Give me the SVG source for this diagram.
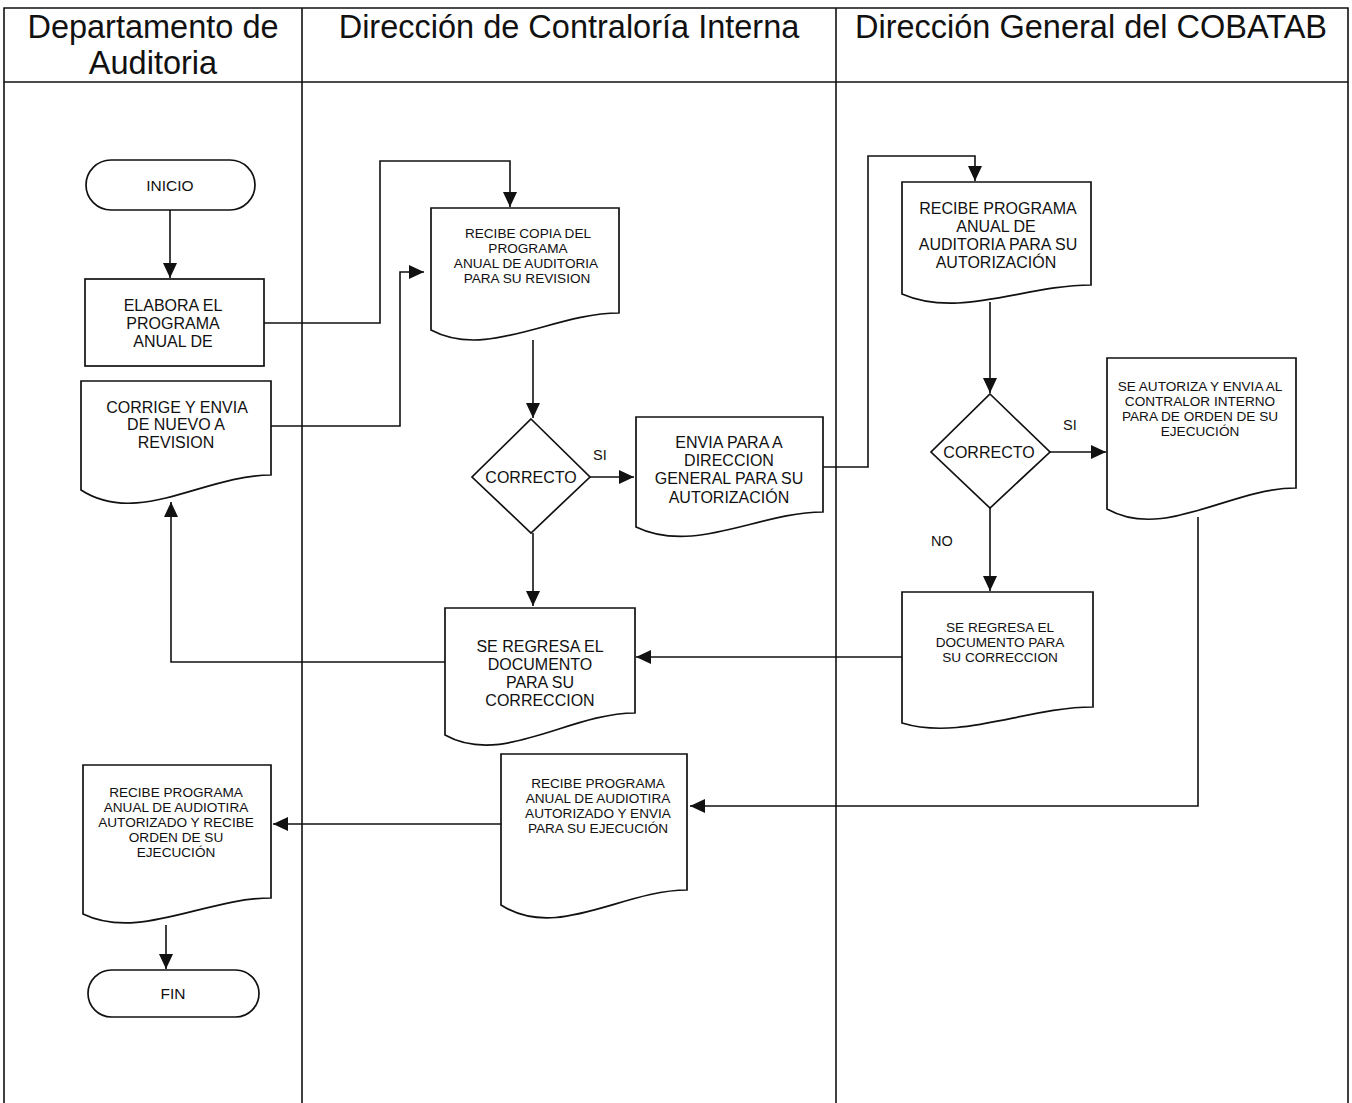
<svg xmlns="http://www.w3.org/2000/svg" width="1352" height="1103" viewBox="0 0 1352 1103">
  <style>
    .lane { fill: none; stroke: #111; stroke-width: 1.6; }
    .shape { fill: #fff; stroke: #111; stroke-width: 1.7; }
    .conn { fill: none; stroke: #111; stroke-width: 1.6; }
    .hdr { font-family: "Liberation Sans", Arial, sans-serif; font-size: 32.5px; fill: #111; text-anchor: middle; }
    .t16 { font-family: "Liberation Sans", Arial, sans-serif; font-size: 16px; fill: #111; text-anchor: middle; }
    .t13 { font-family: "Liberation Sans", Arial, sans-serif; font-size: 13.6px; fill: #111; text-anchor: middle; }
    .lbl { font-family: "Liberation Sans", Arial, sans-serif; font-size: 14.5px; fill: #111; }
  </style>
  <defs>
    <marker id="arrow" markerUnits="userSpaceOnUse" markerWidth="16" markerHeight="14" refX="15" refY="7" orient="auto">
      <path d="M0,0 L15,7 L0,14 Z" fill="#111"/>
    </marker>
  </defs>

  <rect width="1352" height="1103" fill="#fff"/>

  <!-- swimlane frame -->
  <g id="lanes">
    <path class="lane" d="M4,1110 V8 H1348 V1110"/>
    <line class="lane" x1="4" y1="82" x2="1348" y2="82"/>
    <line class="lane" x1="302" y1="8" x2="302" y2="1110"/>
    <line class="lane" x1="836" y1="8" x2="836" y2="1110"/>
    <text class="hdr" x="153" y="38">Departamento de</text>
    <text class="hdr" x="153" y="74">Auditoria</text>
    <text class="hdr" x="569" y="38">Dirección de Contraloría Interna</text>
    <text class="hdr" x="1091" y="38">Dirección General del COBATAB</text>
  </g>

  <!-- connectors -->
  <g id="connectors">
    <path class="conn" d="M170,210 V278" marker-end="url(#arrow)"/>
    <path class="conn" d="M264,323 H380 V161 H510 V207" marker-end="url(#arrow)"/>
    <path class="conn" d="M271,426 H400 V272 H424" marker-end="url(#arrow)"/>
    <path class="conn" d="M533,340 V418" marker-end="url(#arrow)"/>
    <path class="conn" d="M590,477 H634" marker-end="url(#arrow)"/>
    <path class="conn" d="M823,467 H868 V156 H975 V181" marker-end="url(#arrow)"/>
    <path class="conn" d="M990,302 V393" marker-end="url(#arrow)"/>
    <path class="conn" d="M1050,452 H1106" marker-end="url(#arrow)"/>
    <path class="conn" d="M990,508 V591" marker-end="url(#arrow)"/>
    <path class="conn" d="M902,657 H636" marker-end="url(#arrow)"/>
    <path class="conn" d="M533,533 V606" marker-end="url(#arrow)"/>
    <path class="conn" d="M445,662 H171 V502" marker-end="url(#arrow)"/>
    <path class="conn" d="M1198,517 V806 H690" marker-end="url(#arrow)"/>
    <path class="conn" d="M501,824 H273" marker-end="url(#arrow)"/>
    <path class="conn" d="M166,925 V969" marker-end="url(#arrow)"/>
    <text class="lbl" x="593" y="460">SI</text>
    <text class="lbl" x="1063" y="430">SI</text>
    <text class="lbl" x="931" y="546">NO</text>
  </g>

  <g id="inicio">
    <rect class="shape" x="86" y="160" width="169" height="50" rx="25"/>
    <text class="t13" x="170" y="191" style="font-size:15.5px">INICIO</text>
  </g>

  <g id="elabora">
    <rect class="shape" x="85" y="279" width="179" height="87"/>
    <text class="t16" x="173" y="311">ELABORA EL</text>
    <text class="t16" x="173" y="329">PROGRAMA</text>
    <text class="t16" x="173" y="347">ANUAL DE</text>
  </g>

  <g id="corrige">
    <path class="shape" d="M81,381 H271 V475 C204,475 138,527 81,490 Z"/>
    <text class="t16" x="177" y="413">CORRIGE Y ENVIA</text>
    <text class="t16" x="176" y="430">DE NUEVO A</text>
    <text class="t16" x="176" y="448">REVISION</text>
  </g>

  <g id="recibe-copia">
    <path class="shape" d="M431,208 H619 V313 C553,313 487,360 431,330 Z"/>
    <text class="t13" x="528" y="238">RECIBE COPIA DEL</text>
    <text class="t13" x="528" y="253">PROGRAMA</text>
    <text class="t13" x="526" y="268">ANUAL DE  AUDITORIA</text>
    <text class="t13" x="527" y="283">PARA SU REVISION</text>
  </g>

  <g id="correcto-1">
    <path class="shape" d="M531,419 L590,477 L531,533 L472,477 Z"/>
    <text class="t16" x="531" y="483">CORRECTO</text>
  </g>

  <g id="envia">
    <path class="shape" d="M636,417 H823 V512 C759,512 694,555 636,527 Z"/>
    <text class="t16" x="729" y="448">ENVIA PARA A</text>
    <text class="t16" x="729" y="466">DIRECCION</text>
    <text class="t16" x="729" y="484">GENERAL PARA SU</text>
    <text class="t16" x="729" y="503">AUTORIZACIÓN</text>
  </g>

  <g id="recibe-programa-dg">
    <path class="shape" d="M902,182 H1091 V285 C1025,285 959,319 902,294 Z"/>
    <text class="t16" x="998" y="214">RECIBE PROGRAMA</text>
    <text class="t16" x="996" y="232">ANUAL DE</text>
    <text class="t16" x="998" y="250">AUDITORIA PARA SU</text>
    <text class="t16" x="996" y="268">AUTORIZACIÓN</text>
  </g>

  <g id="correcto-2">
    <path class="shape" d="M990,394 L1050,452 L990,508 L931,452 Z"/>
    <text class="t16" x="989" y="458">CORRECTO</text>
  </g>

  <g id="se-autoriza">
    <path class="shape" d="M1107,358 H1296 V488 C1230,488 1164,541 1107,509 Z"/>
    <text class="t13" x="1200" y="391">SE AUTORIZA Y ENVIA AL</text>
    <text class="t13" x="1200" y="406">CONTRALOR INTERNO</text>
    <text class="t13" x="1200" y="421">PARA DE ORDEN DE SU</text>
    <text class="t13" x="1200" y="436">EJECUCIÓN</text>
  </g>

  <g id="se-regresa-dg">
    <path class="shape" d="M902,592 H1093 V707 C1027,707 961,741 902,723 Z"/>
    <text class="t13" x="1000" y="632">SE REGRESA EL</text>
    <text class="t13" x="1000" y="647">DOCUMENTO PARA</text>
    <text class="t13" x="1000" y="662">SU CORRECCION</text>
  </g>

  <g id="se-regresa-ci">
    <path class="shape" d="M445,608 H635 V713 C569,713 502,767 445,735 Z"/>
    <text class="t16" x="540" y="652">SE REGRESA EL</text>
    <text class="t16" x="540" y="670">DOCUMENTO</text>
    <text class="t16" x="540" y="688">PARA SU</text>
    <text class="t16" x="540" y="706">CORRECCION</text>
  </g>

  <g id="recibe-programa-ci">
    <path class="shape" d="M501,754 H687 V890 C622,890 557,941 501,905 Z"/>
    <text class="t13" x="598" y="788">RECIBE PROGRAMA</text>
    <text class="t13" x="598" y="803">ANUAL DE AUDIOTIRA</text>
    <text class="t13" x="598" y="818">AUTORIZADO Y ENVIA</text>
    <text class="t13" x="598" y="833">PARA SU EJECUCIÓN</text>
  </g>

  <g id="recibe-programa-da">
    <path class="shape" d="M83,765 H271 V898 C205,898 139,941 83,914 Z"/>
    <text class="t13" x="176" y="797">RECIBE PROGRAMA</text>
    <text class="t13" x="176" y="812">ANUAL DE AUDIOTIRA</text>
    <text class="t13" x="176" y="827">AUTORIZADO Y RECIBE</text>
    <text class="t13" x="176" y="842">ORDEN DE SU</text>
    <text class="t13" x="176" y="857">EJECUCIÓN</text>
  </g>

  <g id="fin">
    <rect class="shape" x="88" y="970" width="171" height="47" rx="23.5"/>
    <text class="t13" x="173" y="999" style="font-size:15.5px">FIN</text>
  </g>
</svg>
